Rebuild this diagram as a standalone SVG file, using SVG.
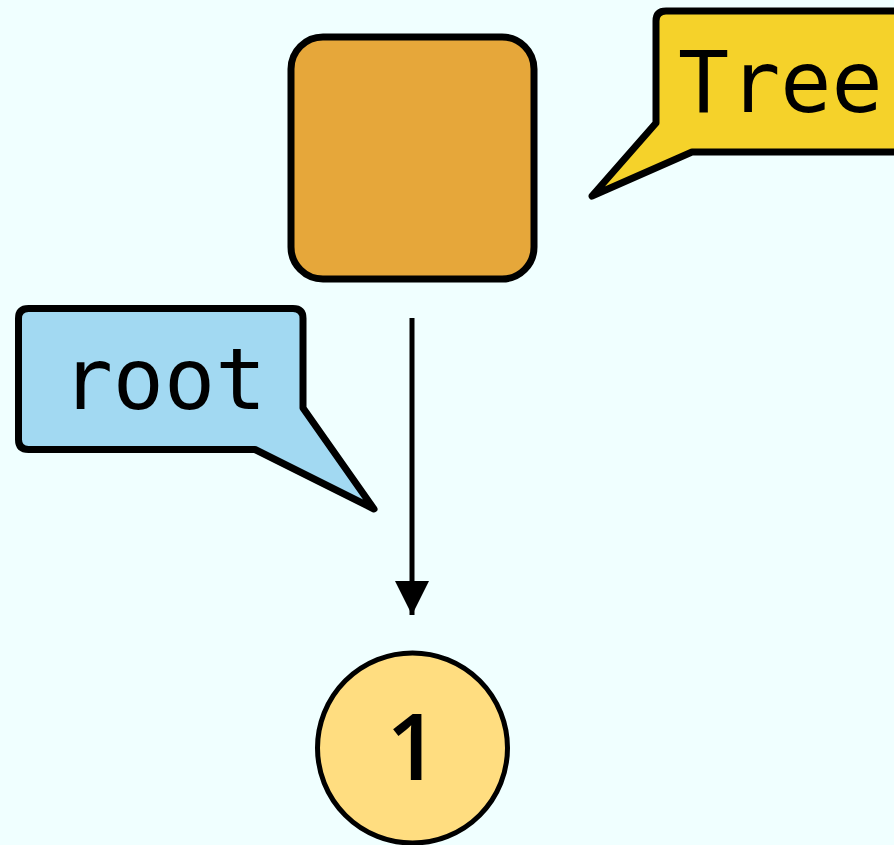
<svg xmlns="http://www.w3.org/2000/svg" width="894" height="845" viewBox="0 0 894 845">
  <style>
    .outline { stroke: #000; stroke-width: 7; stroke-linejoin: round; }
    .mono { font-family: "DejaVu Sans Mono", "Liberation Mono", monospace; font-size: 85px; fill: #000; }
    .edge { stroke: #000; stroke-width: 5; fill: none; }
  </style>
  <defs>
    <marker id="arrow" markerUnits="userSpaceOnUse" markerWidth="36" markerHeight="36" refX="34" refY="17" orient="auto">
      <path d="M0,0 L34,17 L0,34 Z" fill="#000"/>
    </marker>
  </defs>
  <rect x="0" y="0" width="894" height="845" fill="#F0FFFF"/>

  <g id="tree-node">
    <rect class="outline" x="291" y="37" width="243" height="242" rx="32" ry="32" fill="#E6A73A"/>
  </g>

  <g id="tree-label">
    <path class="outline" fill="#F5D22A" d="M666,11 L910,11 L910,152 L692,152 L592,196 L656,123 L656,21 Q656,11 666,11 Z"/>
    <text class="mono" x="678" y="112">Tree</text>
  </g>

  <g id="root-label">
    <path class="outline" fill="#A2D9F2" d="M28.5,308.5 L293,308.5 Q303,308.5 303,318.5 L303,408 L374,509 L255,449.5 L28.5,449.5 Q18.5,449.5 18.5,439.5 L18.5,318.5 Q18.5,308.5 28.5,308.5 Z"/>
    <text class="mono" x="164" y="409" text-anchor="middle">root</text>
  </g>

  <g id="connectors">
    <line class="edge" x1="412" y1="318" x2="412" y2="615" marker-end="url(#arrow)"/>
  </g>

  <g id="node-1">
    <circle cx="412.5" cy="748" r="95" fill="#FFDD80" stroke="#000" stroke-width="5"/>
    <text x="412.5" y="780" text-anchor="middle" font-family="'Open Sans', 'Noto Sans', sans-serif" font-weight="600" font-size="92" fill="#000">1</text>
  </g>
</svg>
